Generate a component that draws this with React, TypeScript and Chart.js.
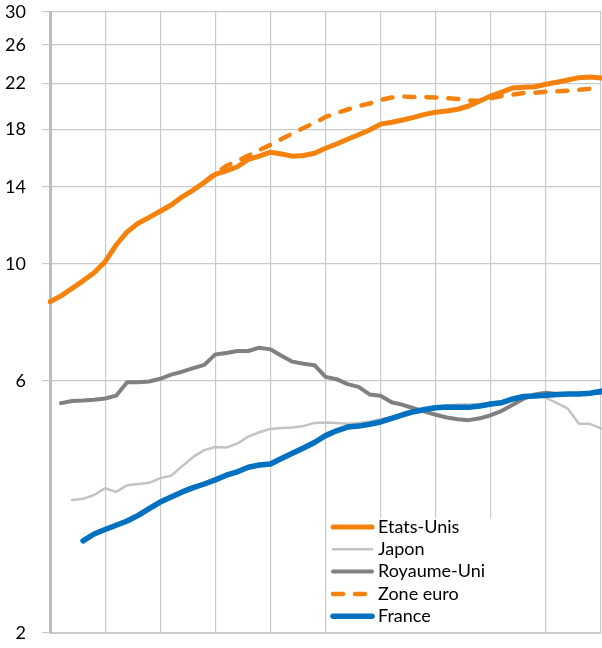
import React, { useEffect, useRef } from "react";
import { Chart, registerables } from "chart.js";

Chart.register(...registerables);

const years = [
  "1970", "1971", "1972", "1973", "1974", "1975", "1976", "1977", "1978", "1979",
  "1980", "1981", "1982", "1983", "1984", "1985", "1986", "1987", "1988", "1989",
  "1990", "1991", "1992", "1993", "1994", "1995", "1996", "1997", "1998", "1999",
  "2000", "2001", "2002", "2003", "2004", "2005", "2006", "2007", "2008", "2009",
  "2010", "2011", "2012", "2013", "2014", "2015", "2016", "2017", "2018", "2019",
  "2020",
];

const yTicks = [2, 6, 10, 14, 18, 22, 26, 30];

const etatsUnis = [
  8.48, 8.7, 8.99, 9.29, 9.62, 10.1, 10.86, 11.5, 11.94, 12.25,
  12.58, 12.93, 13.4, 13.8, 14.27, 14.78, 15.0, 15.28, 15.78, 16.0,
  16.28, 16.15, 16.0, 16.05, 16.2, 16.56, 16.87, 17.22, 17.57, 17.93,
  18.4, 18.55, 18.73, 18.95, 19.2, 19.37, 19.48, 19.63, 19.91, 20.35,
  20.8, 21.16, 21.54, 21.6, 21.65, 21.89, 22.08, 22.3, 22.53, 22.6,
  22.5,
];

const japon = [
  null, null, 3.57, 3.59, 3.65, 3.76, 3.7, 3.81, 3.83, 3.85,
  3.93, 3.97, 4.14, 4.31, 4.44, 4.5, 4.49, 4.57, 4.71, 4.8,
  4.87, 4.89, 4.9, 4.93, 5.0, 5.01, 5.0, 4.98, 5.0, 5.03,
  5.08, 5.13, 5.2, 5.26, 5.3, 5.33, 5.38, 5.42, 5.42, 5.43,
  5.46, 5.5, 5.55, 5.6, 5.65, 5.58, 5.45, 5.32, 4.98, 4.98,
  4.88,
];

const royaumeUni = [
  null, 5.45, 5.5, 5.51, 5.53, 5.56, 5.63, 5.97, 5.97, 5.99,
  6.06, 6.17, 6.25, 6.35, 6.44, 6.74, 6.78, 6.84, 6.84, 6.94,
  6.89, 6.7, 6.53, 6.47, 6.43, 6.11, 6.05, 5.92, 5.85, 5.66,
  5.63, 5.47, 5.41, 5.33, 5.25, 5.18, 5.12, 5.08, 5.06, 5.1,
  5.17, 5.27, 5.41, 5.56, 5.66, 5.7, 5.67, 5.67, 5.68, 5.69,
  5.7,
];

const zoneEuro = [
  null, null, null, null, null, null, null, null, null, null,
  null, null, null, null, 14.27, 14.85, 15.33, 15.66, 16.04, 16.43,
  16.8, 17.24, 17.66, 18.09, 18.49, 18.98, 19.31, 19.61, 19.9, 20.13,
  20.44, 20.66, 20.75, 20.7, 20.7, 20.66, 20.6, 20.53, 20.4, 20.35,
  20.6, 20.8, 20.93, 21.07, 21.1, 21.2, 21.23, 21.28, 21.37, 21.46,
  21.58,
];

const france = [
  null, null, null, 2.99, 3.08, 3.14, 3.2, 3.26, 3.34, 3.44,
  3.54, 3.62, 3.7, 3.77, 3.83, 3.9, 3.98, 4.04, 4.12, 4.16,
  4.18, 4.28, 4.38, 4.48, 4.59, 4.73, 4.83, 4.91, 4.93, 4.97,
  5.02, 5.1, 5.18, 5.25, 5.3, 5.34, 5.36, 5.35, 5.35, 5.38,
  5.43, 5.46, 5.55, 5.61, 5.62, 5.64, 5.66, 5.67, 5.67, 5.69,
  5.74,
];

const ORANGE = "#F5820D";
const BLUE = "#0070C0";
const DARK_GREY = "#808080";
const LIGHT_GREY = "#C3C3C3";
const GRID = "#CACACA";
const FONT = "Lato";

const legendPlugin = {
  id: "insideLegend",
  afterDraw(chart: any) {
    const { ctx, chartArea } = chart;
    const boxLeft = chartArea.left + 278;
    const boxTop = chartArea.top + 506;
    const boxW = 172;
    const boxH = chartArea.bottom - boxTop - 1;
    ctx.save();
    ctx.fillStyle = "#ffffff";
    ctx.fillRect(boxLeft, boxTop, boxW, boxH);
    const order = [0, 1, 2, 3, 4];
    order.forEach((di, row) => {
      const ds = chart.data.datasets[di];
      const y = boxTop + 9 + row * 22.3;
      ctx.beginPath();
      ctx.strokeStyle = ds.borderColor;
      ctx.lineWidth = ds.borderWidth;
      ctx.lineCap = "round";
      ctx.setLineDash(ds.borderDash || []);
      ctx.moveTo(boxLeft + 5, y);
      ctx.lineTo(boxLeft + 44, y);
      ctx.stroke();
      ctx.setLineDash([]);
      ctx.fillStyle = "#000000";
      ctx.font = `18px ${FONT}`;
      ctx.textBaseline = "middle";
      ctx.textAlign = "left";
      ctx.fillText(ds.label, boxLeft + 50, y);
    });
    ctx.restore();
  },
};

export default function App() {
  const canvasRef = useRef<HTMLCanvasElement | null>(null);

  useEffect(() => {
    if (!canvasRef.current) return;
    Chart.defaults.font.family = FONT;
    const chart = new Chart(canvasRef.current, {
      type: "line",
      data: {
        labels: years,
        datasets: [
          {
            label: "Etats-Unis",
            data: etatsUnis,
            borderColor: ORANGE,
            borderWidth: 5,
            borderCapStyle: "round",
            borderJoinStyle: "round",
            pointRadius: 0,
            order: 1,
          },
          {
            label: "Japon",
            data: japon,
            borderColor: LIGHT_GREY,
            borderWidth: 2.5,
            borderCapStyle: "round",
            borderJoinStyle: "round",
            pointRadius: 0,
            order: 4,
          },
          {
            label: "Royaume-Uni",
            data: royaumeUni,
            borderColor: DARK_GREY,
            borderWidth: 4,
            borderCapStyle: "round",
            borderJoinStyle: "round",
            pointRadius: 0,
            order: 3,
          },
          {
            label: "Zone euro",
            data: zoneEuro,
            borderColor: ORANGE,
            borderWidth: 4.5,
            borderDash: [10, 12],
            borderCapStyle: "round",
            borderJoinStyle: "round",
            pointRadius: 0,
            order: 2,
          },
          {
            label: "France",
            data: france,
            borderColor: BLUE,
            borderWidth: 5.5,
            borderCapStyle: "round",
            borderJoinStyle: "round",
            pointRadius: 0,
            order: 0,
          },
        ],
      },
      options: {
        responsive: false,
        animation: false,
        layout: { padding: { top: 12, right: 1, bottom: 15, left: 0 } },
        plugins: {
          legend: { display: false },
          tooltip: { enabled: false },
        },
        scales: {
          x: {
            ticks: { display: false },
            grid: {
              color: (c: any) => (c.index % 5 === 0 ? GRID : "rgba(0,0,0,0)"),
              lineWidth: 1.2,
              drawTicks: false,
              tickLength: 0,
            },
            border: { display: true, color: GRID, width: 1 },
          },
          y: {
            type: "logarithmic",
            min: 2,
            max: 30,
            afterBuildTicks: (axis: any) => {
              axis.ticks = yTicks.map((v) => ({ value: v }));
            },
            afterFit: (axis: any) => {
              axis.width = 50;
              axis.paddingTop = 0;
              axis.paddingBottom = 0;
            },
            ticks: {
              callback: (v: any) => String(v),
              padding: 16,
              color: "#000000",
              font: { family: FONT, size: 18 },
            },
            grid: { color: GRID, lineWidth: 1.2, tickLength: 8 },
            border: { color: "#BDBDBD", width: 3 },
          },
        },
      },
      plugins: [legendPlugin],
    } as any);
    return () => chart.destroy();
  }, []);

  return (
    <div style={{ position: "absolute", left: 0, top: 0, width: 602, height: 648 }}>
      <canvas ref={canvasRef} width={602} height={648} style={{ display: "block" }} />
    </div>
  );
}
